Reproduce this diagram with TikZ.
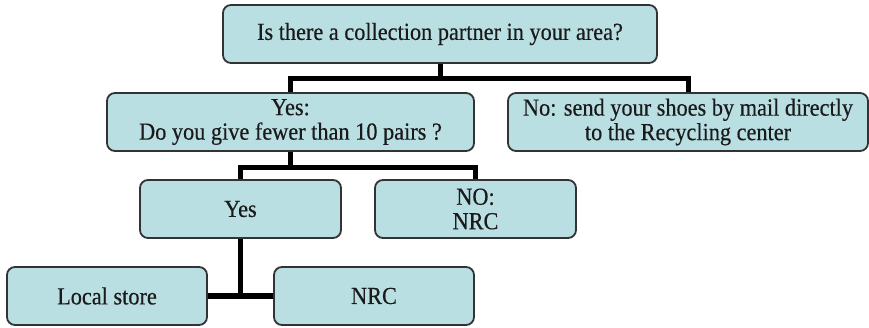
\documentclass[tikz,border=0pt]{standalone}
\usepackage{fontspec}
\setmainfont{Liberation Serif}
\newfontfamily\boxfont{Liberation Serif}[FakeStretch=0.91,FakeBold=0.4]
\definecolor{boxfill}{HTML}{BADFE3}
\definecolor{boxline}{HTML}{333333}
\definecolor{boxtext}{HTML}{1A1A1A}
\begin{document}
\begin{tikzpicture}[x=1pt,y=-1pt,
  box/.style={draw=boxline,line width=1.8pt,fill=boxfill,rounded corners=8pt,
    minimum height=58pt,align=center,inner sep=0pt,text=boxtext,
    font=\boxfont\fontsize{24.5}{24.5}\selectfont},
  conn/.style={draw=black,line width=5pt,line join=miter}]
\useasboundingbox (0,0) rectangle (869,328);
\node[box,minimum width=434pt] (top) at (440,34) {Is there a collection partner in your area?};
\node[box,minimum width=367pt] (yes1) at (290.5,122) {Yes:\\Do you give fewer than 10 pairs ?};
\node[box,minimum width=360pt] (no1) at (688,122) {No: send your shoes by mail directly\\to the Recycling center};
\node[box,minimum width=201pt] (yes2) at (240.5,209) {Yes};
\node[box,minimum width=201pt] (no2) at (475.5,209) {NO:\\NRC};
\node[box,minimum width=200pt] (local) at (107,296) {Local store};
\node[box,minimum width=200pt] (nrc) at (374,296) {NRC};
\draw[conn] (top.south) -- ++(0,15) coordinate (b1);
\draw[conn] (yes1.north) |- (b1) -| (no1.north);
\draw[conn] (yes1.south) -- ++(0,16) coordinate (b2);
\draw[conn] (yes2.north) |- (b2) -| (no2.north);
\draw[conn] (yes2.south) -- (yes2.south |- local.east);
\draw[conn] (local.east) -- (nrc.west);
\end{tikzpicture}
\end{document}
